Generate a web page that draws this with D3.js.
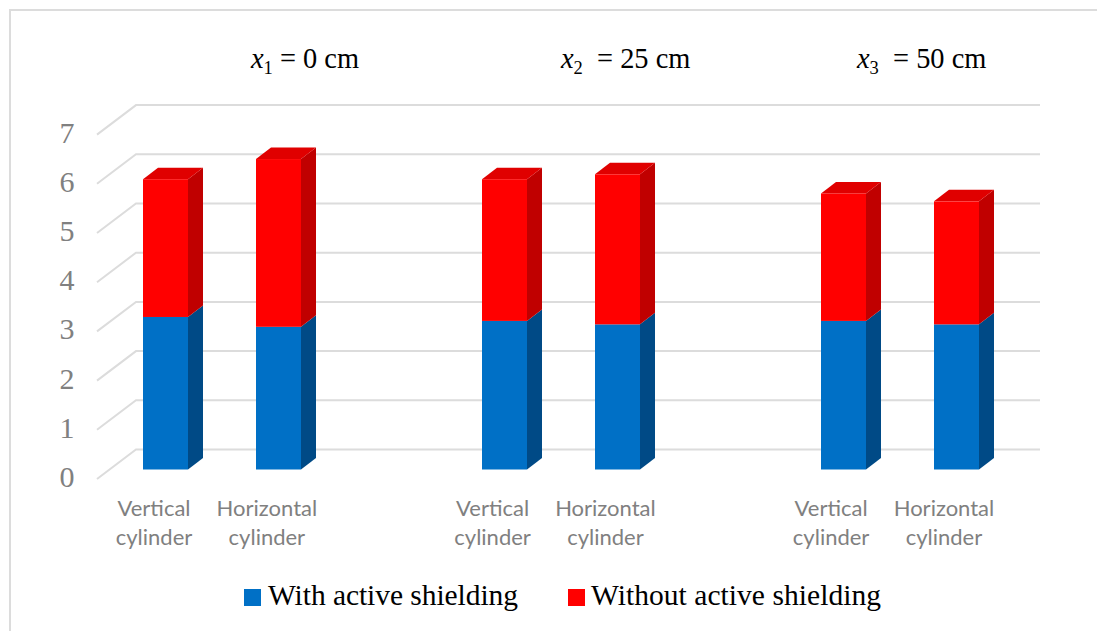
<!DOCTYPE html>
<html><head><meta charset="utf-8">
<script src="https://cdn.jsdelivr.net/npm/d3@7/dist/d3.min.js"></script>
<style>html,body{margin:0;padding:0;background:#fff}svg{display:block}</style>
</head><body><svg id="c" width="1097" height="631"></svg>
<script>
const categories = ["Vertical cylinder","Horizontal cylinder","","Vertical cylinder ","Horizontal cylinder ","  ","Vertical cylinder  ","Horizontal cylinder  "];
const withShielding = [3.1,2.9,null,3.02,2.95,null,3.02,2.95];
const withoutShielding = [2.8,3.41,null,2.88,3.05,null,2.59,2.5];
const yTicks = [0,1,2,3,4,5,6,7];
const seriesNames = ["With active shielding","Without active shielding"];
const titles = [["1","= 0 cm",251],["2"," = 25 cm",561],["3"," = 50 cm",857]];

const svg = d3.select("#c");
const x = d3.scaleBand().domain(categories).range([97,1001]);
const xLabel = d3.scaleBand().domain(categories).range([97.6,1000.4]);
const y = d3.scaleLinear().domain([0,7]).range([469.5,125.1]);
const wall = {dx:39, dy:29.5, lift:9.5};
const depth = {dx:15, dy:11.5};
const barW = 45;
const blue = {f:"#0070C6",s:"#004A86",t:"#0060AA"}, red = {f:"#FF0000",s:"#C00000",t:"#E00000"};

// frame
svg.append("path").attr("d","M1097,10H10V631").attr("fill","none").attr("stroke","#dcdcdc").attr("stroke-width",2);

// gridlines + wall
const grid = svg.append("g").attr("fill","none").attr("stroke","#dcdcdc").attr("stroke-width",2);
yTicks.forEach(t=>{
  const yf = y(t)+wall.lift, yb = yf-wall.dy;
  grid.append("path").attr("d",`M97,${yf}L136,${yb}H1040`);
});
// y labels
svg.append("g").selectAll("text").data(yTicks).join("text")
  .attr("x",67).attr("y",t=>y(t)+17.5).attr("text-anchor","middle")
  .attr("font-family","Liberation Serif").attr("font-size",30).attr("fill","#808080").text(d=>d);

// bars
function box(g,x0,v0,v1,c,top){
  const yb=y(v0), yt=y(v1), X=x0+barW;
  g.append("polygon").attr("points",[[X,yb],[X+depth.dx,yb-depth.dy],[X+depth.dx,yt-depth.dy],[X,yt]].join(" ")).attr("fill",c.s);
  if(top) g.append("polygon").attr("points",[[x0,yt],[x0+depth.dx,yt-depth.dy],[X+depth.dx,yt-depth.dy],[X,yt]].join(" ")).attr("fill",c.t);
  g.append("rect").attr("x",x0).attr("y",yt).attr("width",barW).attr("height",yb-yt).attr("fill",c.f);
}
const bars = svg.append("g");
categories.forEach((cat,i)=>{
  if(withShielding[i]==null) return;
  const x0 = x(cat)+46;
  box(bars,x0,0,withShielding[i],blue,false);
  box(bars,x0,withShielding[i],withShielding[i]+withoutShielding[i],red,true);
});

// category labels
categories.forEach(cat=>{
  const words = cat.trim().split(" ");
  if(!words[0]) return;
  const cx = xLabel(cat)+xLabel.bandwidth()/2;
  words.forEach((w,k)=>svg.append("text").attr("x",cx).attr("y",516+k*28.5).attr("text-anchor","middle")
    .attr("font-family","Lato").attr("font-size",22).attr("fill","#808080").text(w));
});

// titles
titles.forEach(([s,rest,tx])=>{
  const t = svg.append("text").attr("x",tx).attr("y",68).attr("font-family","Liberation Serif").attr("font-size",28.4).attr("fill","#000").style("white-space","pre");
  t.append("tspan").attr("font-style","italic").text("x");
  t.append("tspan").attr("font-size",18.5).attr("dy",6).text(s);
  t.append("tspan").attr("dy",-6).text(" "+rest);
});

// legend
const leg = [[244,268,250,blue.f],[568,591,290,red.f]];
leg.forEach(([sx,tx,tl,col],i)=>{
  svg.append("rect").attr("x",sx).attr("y",589).attr("width",17).attr("height",17).attr("fill",col);
  svg.append("text").attr("x",tx).attr("y",605).attr("font-family","Liberation Serif").attr("font-size",29.5).attr("fill","#000")
    .attr("textLength",tl).attr("lengthAdjust","spacing").text(seriesNames[i]);
});
</script></body></html>
